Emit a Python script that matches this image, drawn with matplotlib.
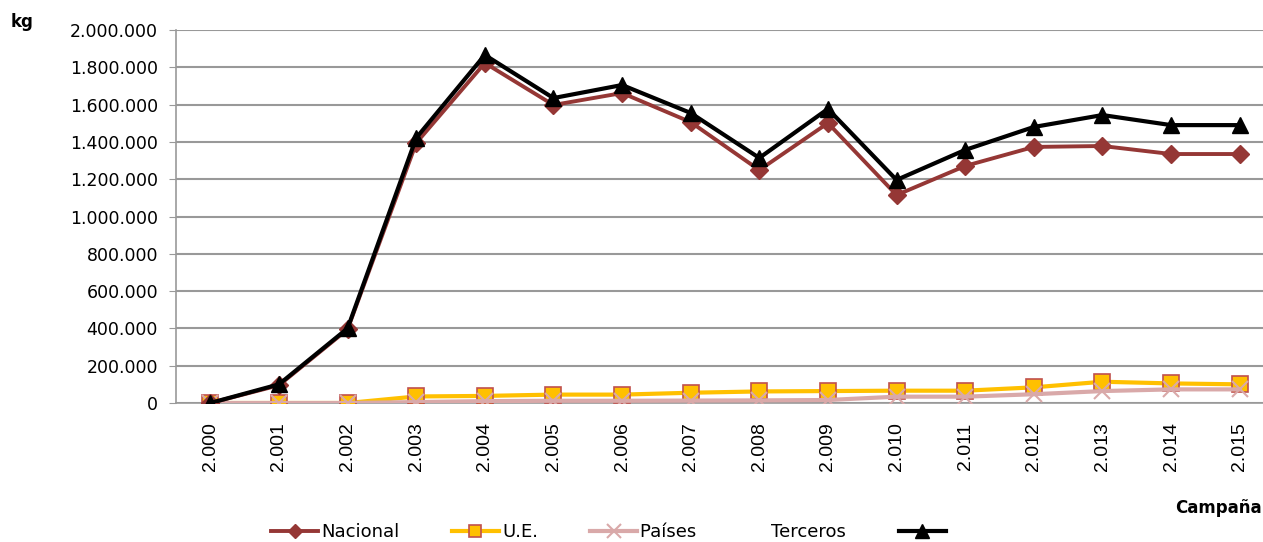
import matplotlib
matplotlib.use('Agg')
import matplotlib.pyplot as plt
from matplotlib.lines import Line2D
from matplotlib.ticker import FuncFormatter

campanas = ['2.000', '2.001', '2.002', '2.003', '2.004', '2.005', '2.006', '2.007',
            '2.008', '2.009', '2.010', '2.011', '2.012', '2.013', '2.014', '2.015']

nacional = [0, 95000, 395000, 1394000, 1823000, 1598000, 1662000, 1506000,
            1249000, 1501000, 1115000, 1271000, 1373000, 1378000, 1335000, 1335000]
ue = [0, 0, 0, 35000, 38000, 45000, 45000, 55000,
      62000, 64000, 66000, 66000, 84000, 114000, 105000, 100000]
paises_terceros = [0, 0, 0, 5000, 10000, 12000, 12000, 13000,
                   14000, 16000, 34000, 34000, 47000, 64000, 73000, 73000]
total = [0, 100000, 400000, 1421000, 1866000, 1635000, 1705000, 1555000,
         1314000, 1577000, 1196000, 1357000, 1480000, 1544000, 1490000, 1490000]

x = list(range(len(campanas)))

fig = plt.figure(figsize=(12.63, 5.42), dpi=100)
ax = fig.add_axes([176 / 1263, 1 - 403 / 542, 1098 / 1263, 373 / 542])

ax.plot(x, nacional, color='#953735', lw=2.8, marker='D', ms=9, mec='#953735', mfc='#953735', zorder=4)
ax.plot(x, ue, color='#FFC000', lw=3, marker='s', ms=11, mec='#C0504D', mew=1.2, mfc='#FFC000', zorder=3)
ax.plot(x, paises_terceros, color='#D9A9A9', lw=3, marker='x', ms=12, mew=1.5, zorder=3)
ax.plot(x, total, color='black', lw=3, marker='^', ms=12, zorder=5)

ax.set_xlim(-0.5, 15.5)
ax.set_ylim(0, 2000000)
ax.set_yticks(range(0, 2000001, 200000))
ax.yaxis.set_major_formatter(FuncFormatter(lambda v, p: f'{int(v):,}'.replace(',', '.')))
ax.set_xticks(x)
ax.set_xticklabels(campanas, rotation=90, family='Liberation Sans', fontsize=14)
ax.tick_params(axis='x', length=0, pad=14)
ax.tick_params(axis='y', length=5, color='#999999', labelsize=12.5, pad=8)
ax.grid(axis='y', color='#999999', lw=1.5)
ax.set_axisbelow(True)
for s in ['top', 'right']:
    ax.spines[s].set_visible(False)
for s in ['left', 'bottom']:
    ax.spines[s].set_color('#999999')
    ax.spines[s].set_linewidth(1.2)

fig.text(22 / 1263, 1 - 22 / 542, 'kg', fontsize=12, fontweight='bold', ha='center', va='center')
fig.text(1218 / 1263, 1 - 508 / 542, 'Campaña', fontsize=12, fontweight='bold', ha='center', va='center')

handles = [
    Line2D([], [], color='#953735', lw=2.8, marker='D', ms=7),
    Line2D([], [], color='#FFC000', lw=3, marker='s', ms=9, mec='#C0504D', mew=1.2),
    Line2D([], [], color='#D9A9A9', lw=3, marker='x', ms=10, mew=1.5),
    Line2D([], [], color='black', lw=3, marker='^', ms=10),
]
labels = ['Nacional', 'U.E.', 'Países' + ' ' * 13 + 'Terceros', '']
fig.legend(handles, labels, loc='center', bbox_to_anchor=(610 / 1263, 1 - 532 / 542), ncol=4,
           frameon=False, fontsize=13, handlelength=2.6, columnspacing=2.9, handletextpad=0.17)

fig.savefig('out.png', dpi=100)
